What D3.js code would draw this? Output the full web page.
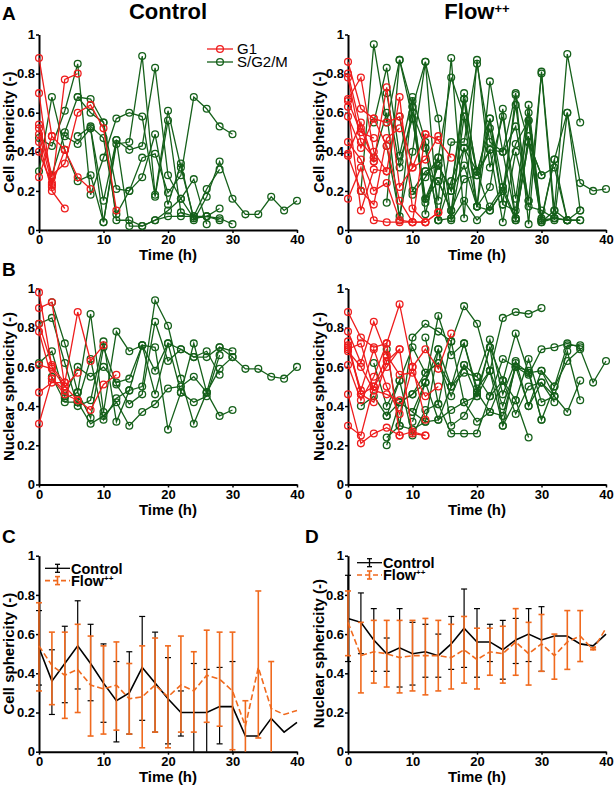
<!DOCTYPE html>
<html><head><meta charset="utf-8">
<script src="https://cdn.jsdelivr.net/npm/d3@7"></script>
<style>body{margin:0;background:#fff}svg{display:block;font-family:"Liberation Sans",Arial,sans-serif}</style>
</head><body><svg id="c" width="614" height="789"></svg>
<script>
// ---------- DATA ----------
// Each track: first number = start time (h), then sphericity values every 2 h.
const xTickValues = [0, 10, 20, 30, 40];
const yTickValues = [0, 0.2, 0.4, 0.6, 0.8, 1];
const yTickLabels = ["0", "0.2", "0.4", "0.6", "0.8", "1"];
const timePoints = d3.range(0, 41, 2);

// Panel A – cell sphericity, Control
const ctrlCellG1 = [
  [0, 0.88, 0.48, 0.41, 0.27, 0.21],
  [0, 0.70, 0.22, 0.77, 0.80],
  [0, 0.54, 0.28, 0.34, 0.60, 0.64, 0.52, 0.10],
  [0, 0.45, 0.20, 0.11],
  [0, 0.40, 0.23, 0.41],
  [0, 0.52, 0.27],
  [0, 0.49, 0.24],
  [0, 0.27, 0.48]
];
const ctrlCellSG2M = [
  [0, 0.30, 0.68, 0.41, 0.25, 0.28, 0.04, 0.44, 0.45, 0.89, 0.18, 0.61, 0.32, 0.06, 0.07, 0.06, 0.03],
  [0, 0.47, 0.43, 0.61, 0.85, 0.18, 0.37, 0.57, 0.60, 0.58, 0.17, 0.56, 0.09, 0.07, 0.21, 0.31],
  [2, 0.28, 0.50, 0.68, 0.67, 0.55, 0.05, 0.05, 0.02, 0.05, 0.07, 0.07, 0.07, 0.07, 0.05],
  [4, 0.48, 0.44, 0.52, 0.15, 0.46, 0.41, 0.43, 0.83, 0.28, 0.16, 0.26, 0.03],
  [6, 0.48, 0.53, 0.47, 0.08, 0.20, 0.37, 0.39, 0.19, 0.28, 0.68, 0.62, 0.53, 0.49],
  [6, 0.68, 0.60, 0.55, 0.21, 0.20, 0.27, 0.49, 0.13, 0.34, 0.05, 0.17, 0.35, 0.16, 0.08, 0.08, 0.17, 0.10, 0.15],
  [8, 0.52, 0.04, 0.46, 0.02, 0.02, 0.05, 0.10, 0.16, 0.06, 0.07, 0.11]
];

// Panel A – cell sphericity, Flow++
const flowCellG1 = [
  [0, 0.86, 0.62, 0.57, 0.55, 0.58, 0.32, 0.49, 0.46, 0.37],
  [0, 0.80, 0.52, 0.35, 0.73, 0.22, 0.32, 0.36, 0.48],
  [0, 0.67, 0.78, 0.40, 0.30, 0.68, 0.11, 0.04, 0.09],
  [0, 0.58, 0.42, 0.57, 0.43, 0.15, 0.04, 0.49],
  [0, 0.45, 0.36, 0.20, 0.24, 0.05, 0.04, 0.04, 0.09],
  [0, 0.38, 0.20, 0.13, 0.47, 0.52],
  [0, 0.16, 0.32, 0.05, 0.04, 0.04, 0.04, 0.04],
  [0, 0.63, 0.10, 0.31, 0.30],
  [0, 0.66, 0.50, 0.47],
  [0, 0.39, 0.55, 0.35],
  [0, 0.78, 0.45, 0.37]
];
const flowCellSG2M = [
  [2, 0.20, 0.95, 0.55, 0.87, 0.63, 0.86, 0.57, 0.06, 0.67, 0.12, 0.76, 0.40, 0.70, 0.03, 0.81, 0.10, 0.90, 0.55],
  [4, 0.55, 0.83, 0.38, 0.68, 0.45, 0.15, 0.88, 0.06, 0.87, 0.32, 0.58, 0.16, 0.64, 0.06, 0.36, 0.60, 0.24, 0.20, 0.21],
  [4, 0.37, 0.60, 0.05, 0.66, 0.08, 0.37, 0.78, 0.58, 0.30, 0.52, 0.13, 0.69, 0.45, 0.28, 0.32, 0.05, 0.05],
  [6, 0.70, 0.32, 0.60, 0.42, 0.05, 0.45, 0.45, 0.85, 0.45, 0.40, 0.53, 0.15, 0.80, 0.05, 0.60, 0.10],
  [6, 0.14, 0.87, 0.57, 0.16, 0.33, 0.20, 0.70, 0.28, 0.57, 0.22, 0.44, 0.56, 0.05, 0.36, 0.05],
  [8, 0.58, 0.20, 0.30, 0.25, 0.10, 0.58, 0.12, 0.22, 0.62, 0.05, 0.48, 0.04, 0.06, 0.05, 0.05],
  [6, 0.43, 0.07, 0.40, 0.86, 0.05, 0.25, 0.42, 0.30, 0.41, 0.40, 0.06, 0.45, 0.28],
  [8, 0.35, 0.57, 0.14, 0.33, 0.20, 0.33, 0.12, 0.10, 0.20, 0.64, 0.12, 0.10, 0.06],
  [10, 0.18, 0.27, 0.37, 0.05, 0.15, 0.05, 0.12, 0.22, 0.06, 0.60, 0.05],
  [10, 0.63, 0.16, 0.25, 0.10, 0.26, 0.28, 0.41, 0.04, 0.40, 0.15],
  [12, 0.42, 0.05, 0.06, 0.42, 0.12, 0.57, 0.13, 0.10, 0.56, 0.05, 0.06, 0.05],
  [12, 0.30, 0.33, 0.20, 0.67, 0.30, 0.10, 0.20, 0.05, 0.45, 0.04, 0.10, 0.05, 0.10]
];

// Panel B – nuclear sphericity, Control
const ctrlNucG1 = [
  [0, 0.90, 0.93, 0.50, 0.43, 0.38, 0.51, 0.56],
  [0, 0.98, 0.60, 0.52, 0.88, 0.63, 0.71],
  [0, 0.78, 0.54, 0.46, 0.43],
  [0, 0.61, 0.59, 0.50, 0.57],
  [0, 0.47, 0.52, 0.52],
  [0, 0.31, 0.54, 0.48],
  [0, 0.82, 0.61]
];
const ctrlNucSG2M = [
  [2, 0.93, 0.72, 0.47, 0.87, 0.37, 0.78, 0.68, 0.71, 0.46, 0.72, 0.69, 0.65, 0.65, 0.70, 0.68],
  [0, 0.82, 0.85, 0.62, 0.40, 0.43, 0.73, 0.32, 0.48, 0.50, 0.94, 0.81, 0.54, 0.31, 0.47, 0.59, 0.65, 0.59, 0.59, 0.55, 0.54, 0.60],
  [0, 0.62, 0.68, 0.45, 0.60, 0.55, 0.60, 0.52, 0.54, 0.71, 0.70, 0.28, 0.47, 0.42, 0.45, 0.66],
  [2, 0.55, 0.42, 0.42, 0.31, 0.35, 0.42, 0.30, 0.37, 0.41, 0.49, 0.50, 0.55, 0.47, 0.35, 0.38],
  [4, 0.44, 0.47, 0.34, 0.70, 0.51, 0.41, 0.46, 0.83, 0.63, 0.69, 0.65, 0.68, 0.56],
  [6, 0.42, 0.64, 0.33, 0.44, 0.48, 0.71, 0.58, 0.72, 0.47, 0.72, 0.47, 0.70, 0.65]
];

// Panel B – nuclear sphericity, Flow++
const flowNucG1 = [
  [0, 0.88, 0.75, 0.70, 0.72, 0.92, 0.60, 0.69, 0.59, 0.77],
  [0, 0.78, 0.62, 0.83, 0.66, 0.56, 0.57, 0.45, 0.50],
  [0, 0.73, 0.46, 0.42, 0.63, 0.69, 0.26, 0.25],
  [0, 0.70, 0.48, 0.69, 0.50, 0.36, 0.60, 0.33],
  [0, 0.68, 0.60, 0.48, 0.46, 0.43],
  [0, 0.61, 0.43, 0.55, 0.72, 0.25, 0.27, 0.25],
  [0, 0.46, 0.21, 0.26, 0.29, 0.25],
  [0, 0.30, 0.25, 0.50, 0.65],
  [0, 0.69, 0.72, 0.48],
  [0, 0.71, 0.46, 0.50, 0.60, 0.69]
];
const flowNucSG2M = [
  [6, 0.69, 0.30, 0.75, 0.82, 0.78, 0.73, 0.91, 0.82, 0.58, 0.85, 0.88, 0.87, 0.90],
  [2, 0.40, 0.45, 0.35, 0.42, 0.46, 0.52, 0.86, 0.66, 0.72, 0.47, 0.70, 0.53, 0.77, 0.57, 0.58, 0.50, 0.71, 0.71],
  [4, 0.62, 0.40, 0.53, 0.70, 0.57, 0.62, 0.50, 0.61, 0.55, 0.74, 0.46, 0.63, 0.40, 0.52, 0.45, 0.68, 0.43],
  [6, 0.24, 0.30, 0.28, 0.32, 0.33, 0.38, 0.42, 0.32, 0.37, 0.35, 0.60, 0.58, 0.33, 0.50, 0.63, 0.69, 0.52, 0.63],
  [6, 0.20, 0.42, 0.37, 0.52, 0.69, 0.50, 0.72, 0.49, 0.58, 0.40, 0.60, 0.56, 0.69, 0.70, 0.72, 0.70],
  [6, 0.35, 0.53, 0.25, 0.38, 0.41, 0.26, 0.26, 0.26, 0.45, 0.53, 0.43, 0.24],
  [8, 0.42, 0.46, 0.57, 0.62, 0.45, 0.61, 0.45, 0.70, 0.30, 0.43, 0.64, 0.42, 0.45, 0.37, 0.53],
  [10, 0.32, 0.52, 0.33, 0.50, 0.57, 0.55, 0.45, 0.64, 0.60, 0.40, 0.58, 0.45],
  [10, 0.37, 0.32, 0.69, 0.30, 0.35, 0.47, 0.37, 0.53, 0.36, 0.50, 0.52, 0.42],
  [12, 0.75, 0.41, 0.73, 0.42, 0.45, 0.58, 0.30, 0.62, 0.57, 0.33]
];

// Panel C – mean cell sphericity with error bars
const cCtrlMean = [0.53,0.36,0.45,0.54,0.45,0.35,0.26,0.30,0.43,0.35,0.27,0.20,0.20,0.20,0.23,0.23,0.08,0.08,0.17,0.10,0.15];
const cCtrlHi   = [0.72,0.52,0.64,0.77,0.65,0.55,0.46,0.51,0.69,0.61,0.48,0.31,0.45,0.42,0.43,0.46,null,null,null,null,null];
const cCtrlLo   = [0.34,0.19,0.25,0.32,0.26,0.15,0.05,0.09,0.16,0.10,0.04,0.08,-0.05,-0.02,0.04,0.00,null,null,null,null,null];
const cFlowMean = [0.54,0.44,0.39,0.42,0.34,0.32,0.34,0.27,0.28,0.34,0.28,0.34,0.31,0.39,0.37,0.31,0.13,0.43,0.22,0.19,0.21];
const cFlowHi   = [0.76,0.61,0.61,0.65,0.59,0.54,0.56,0.45,0.54,0.58,0.54,0.59,0.51,0.62,0.61,0.61,0.26,0.82,0.46,null,null];
const cFlowLo   = [0.31,0.24,0.17,0.20,0.08,0.09,0.11,0.09,0.02,0.10,0.02,0.10,0.10,0.15,0.13,0.01,0.00,0.07,0.00,null,null];

// Panel D – mean nuclear sphericity with error bars
const dCtrlMean = [0.68,0.66,0.57,0.50,0.53,0.50,0.51,0.49,0.55,0.63,0.56,0.56,0.52,0.57,0.60,0.57,0.59,0.59,0.55,0.54,0.60];
const dCtrlHi   = [0.90,0.81,0.73,0.58,0.73,0.66,0.65,0.60,0.69,0.83,0.73,0.65,0.67,0.68,0.73,0.74,null,null,null,null,null];
const dCtrlLo   = [0.46,0.50,0.41,0.41,0.33,0.34,0.38,0.38,0.42,0.43,0.38,0.46,0.37,0.45,0.46,0.41,null,null,null,null,null];
const dFlowMean = [0.66,0.49,0.51,0.50,0.48,0.49,0.49,0.49,0.48,0.52,0.47,0.51,0.50,0.56,0.50,0.55,0.49,0.56,0.59,0.52,0.63];
const dFlowHi   = [0.82,0.66,0.67,0.67,0.67,0.67,0.68,0.67,0.65,0.69,0.63,0.63,0.64,0.73,0.66,0.70,0.60,0.72,0.72,0.53,null];
const dFlowLo   = [0.49,0.30,0.35,0.33,0.30,0.31,0.29,0.31,0.32,0.35,0.32,0.39,0.35,0.39,0.34,0.41,0.37,0.42,0.46,0.52,null];

// ---------- STYLE ----------
const RED = "#ee1d1d", GREEN = "#15601a", ORANGE = "#f06a1e", BLACK = "#000";
const svg = d3.select("#c");

function panel(x0, x1, yT, yB, yLabel, ylx) {
  const x = d3.scaleLinear().domain([0, 40]).range([x0, x1]);
  const y = d3.scaleLinear().domain([0, 1]).range([yB, yT]).clamp(true);
  const g = svg.append("g");
  const ax = g.append("g").attr("transform", `translate(0,${yB})`)
    .call(d3.axisBottom(x).tickValues(xTickValues).tickSize(3).tickSizeOuter(0).tickPadding(2).tickFormat(d3.format("d")));
  const ay = g.append("g").attr("transform", `translate(${x0},0)`)
    .call(d3.axisLeft(y).tickValues(yTickValues).tickSize(3).tickSizeOuter(0).tickPadding(1).tickFormat((d, i) => yTickLabels[i]));
  [ax, ay].forEach(a => {
    a.select(".domain").attr("stroke", "#000").attr("stroke-width", 2);
    a.selectAll(".tick line").attr("stroke-width", 1.5);
    a.selectAll("text").attr("font-size", 13).attr("font-weight", "bold").attr("fill", "#000").attr("font-family", "Liberation Sans, Arial, sans-serif");
  });
  g.append("text").attr("x", (x0 + x1) / 2).attr("y", yB + 25).attr("dy", "0.35em")
    .attr("text-anchor", "middle").attr("font-size", 15).attr("font-weight", "bold").text("Time (h)");
  g.append("text").attr("transform", `translate(${ylx},${(yT + yB) / 2}) rotate(-90)`).attr("dy", "0.35em")
    .attr("text-anchor", "middle").attr("font-size", 15).attr("font-weight", "bold").text(yLabel);
  return { x, y, g };
}

function tracks(p, data, color) {
  const line = d3.line().x(d => p.x(d[0])).y(d => p.y(d[1]));
  data.forEach(tr => {
    const pts = tr.slice(1).map((v, i) => [tr[0] + 2 * i, v]);
    const gg = p.g.append("g");
    gg.append("path").attr("d", line(pts)).attr("fill", "none").attr("stroke", color).attr("stroke-width", 1.3);
    gg.selectAll("circle").data(pts).join("circle")
      .attr("cx", d => p.x(d[0])).attr("cy", d => p.y(d[1])).attr("r", 3.4)
      .attr("fill", "none").attr("stroke", color).attr("stroke-width", 1.3);
  });
}

function errSeries(p, mean, hi, lo, color, dashed, width) {
  const pts = mean.map((m, i) => ({ t: timePoints[i], m, hi: hi[i], lo: lo[i] }));
  const gb = p.g.append("g").attr("stroke", color).attr("stroke-width", width);
  pts.filter(d => d.hi != null).forEach(d => {
    const xx = p.x(d.t);
    gb.append("line").attr("x1", xx).attr("x2", xx).attr("y1", p.y(d.hi)).attr("y2", p.y(d.lo));
    gb.append("line").attr("x1", xx - 3).attr("x2", xx + 3).attr("y1", p.y(d.hi)).attr("y2", p.y(d.hi));
    if (d.lo > 0.005) gb.append("line").attr("x1", xx - 3).attr("x2", xx + 3).attr("y1", p.y(d.lo)).attr("y2", p.y(d.lo));
  });
  p.g.append("path").attr("d", d3.line().x(d => p.x(d.t)).y(d => p.y(d.m))(pts))
    .attr("fill", "none").attr("stroke", color).attr("stroke-width", 1.6)
    .attr("stroke-dasharray", dashed ? "6,3" : null);
}

function errLegend(x0, y0) {
  const items = [{ c: BLACK, d: null, w: 1.3, t: "Control", sup: "" }, { c: ORANGE, d: "5,3", w: 1.6, t: "Flow", sup: "++" }];
  items.forEach((it, i) => {
    const yy = y0 + i * 12.3;
    const g = svg.append("g").attr("stroke", it.c).attr("stroke-width", it.w);
    g.append("line").attr("x1", x0).attr("x2", x0 + 25).attr("y1", yy).attr("y2", yy).attr("stroke-dasharray", it.d);
    g.append("line").attr("x1", x0 + 12.5).attr("x2", x0 + 12.5).attr("y1", yy - 4).attr("y2", yy + 4);
    g.append("line").attr("x1", x0 + 10).attr("x2", x0 + 15).attr("y1", yy - 4).attr("y2", yy - 4);
    g.append("line").attr("x1", x0 + 10).attr("x2", x0 + 15).attr("y1", yy + 4).attr("y2", yy + 4);
    const tx = svg.append("text").attr("x", x0 + 26).attr("y", yy).attr("dy", "0.36em").attr("font-size", 14.5).attr("font-weight", "bold").text(it.t);
    if (it.sup) tx.append("tspan").attr("font-size", 8).attr("dy", "-0.6em").text(it.sup);
  });
}

// ---------- TITLES & LETTERS ----------
svg.append("text").attr("x", 168).attr("y", 19).attr("text-anchor", "middle").attr("font-size", 22).attr("font-weight", "bold").text("Control");
const ft = svg.append("text").attr("x", 477).attr("y", 19).attr("text-anchor", "middle").attr("font-size", 22).attr("font-weight", "bold").text("Flow");
ft.append("tspan").attr("font-size", 13).attr("dy", "-0.45em").text("++");
[["A", 2, 20], ["B", 2, 276], ["C", 2, 543], ["D", 305, 543]].forEach(([t, x, y]) =>
  svg.append("text").attr("x", x).attr("y", y).attr("font-size", 19).attr("font-weight", "bold").text(t));

// ---------- PANELS ----------
const pA1 = panel(39, 297, 34.5, 230, "Cell sphericity (-)", 9);
tracks(pA1, ctrlCellSG2M, GREEN);
tracks(pA1, ctrlCellG1, RED);
const pA2 = panel(348, 606, 34.5, 230, "Cell sphericity (-)", 319);
tracks(pA2, flowCellSG2M, GREEN);
tracks(pA2, flowCellG1, RED);

// legend A
[{ c: RED, t: "G1", y: 49 }, { c: GREEN, t: "S/G2/M", y: 62 }].forEach(it => {
  svg.append("line").attr("x1", 207).attr("x2", 233).attr("y1", it.y).attr("y2", it.y).attr("stroke", it.c).attr("stroke-width", 1.3);
  svg.append("circle").attr("cx", 220).attr("cy", it.y).attr("r", 3.4).attr("fill", "none").attr("stroke", it.c).attr("stroke-width", 1.3);
  svg.append("text").attr("x", 237).attr("y", it.y).attr("dy", "0.35em").attr("font-size", 15).text(it.t);
});

const pB1 = panel(39, 297, 288.5, 484.5, "Nuclear sphericity (-)", 9);
tracks(pB1, ctrlNucSG2M, GREEN);
tracks(pB1, ctrlNucG1, RED);
const pB2 = panel(348, 606, 288.5, 484.5, "Nuclear sphericity (-)", 319);
tracks(pB2, flowNucSG2M, GREEN);
tracks(pB2, flowNucG1, RED);

const pC = panel(39, 297, 555.7, 751.7, "Cell sphericity (-)", 9);
errSeries(pC, cCtrlMean, cCtrlHi, cCtrlLo, BLACK, false, 1.2);
errSeries(pC, cFlowMean, cFlowHi, cFlowLo, ORANGE, true, 1.6);
errLegend(45, 568.3);

const pD = panel(348, 606, 555.7, 751.7, "Nuclear sphericity (-)", 319);
errSeries(pD, dCtrlMean, dCtrlHi, dCtrlLo, BLACK, false, 1.2);
errSeries(pD, dFlowMean, dFlowHi, dFlowLo, ORANGE, true, 1.6);
errLegend(357, 562.7);
</script></body></html>
